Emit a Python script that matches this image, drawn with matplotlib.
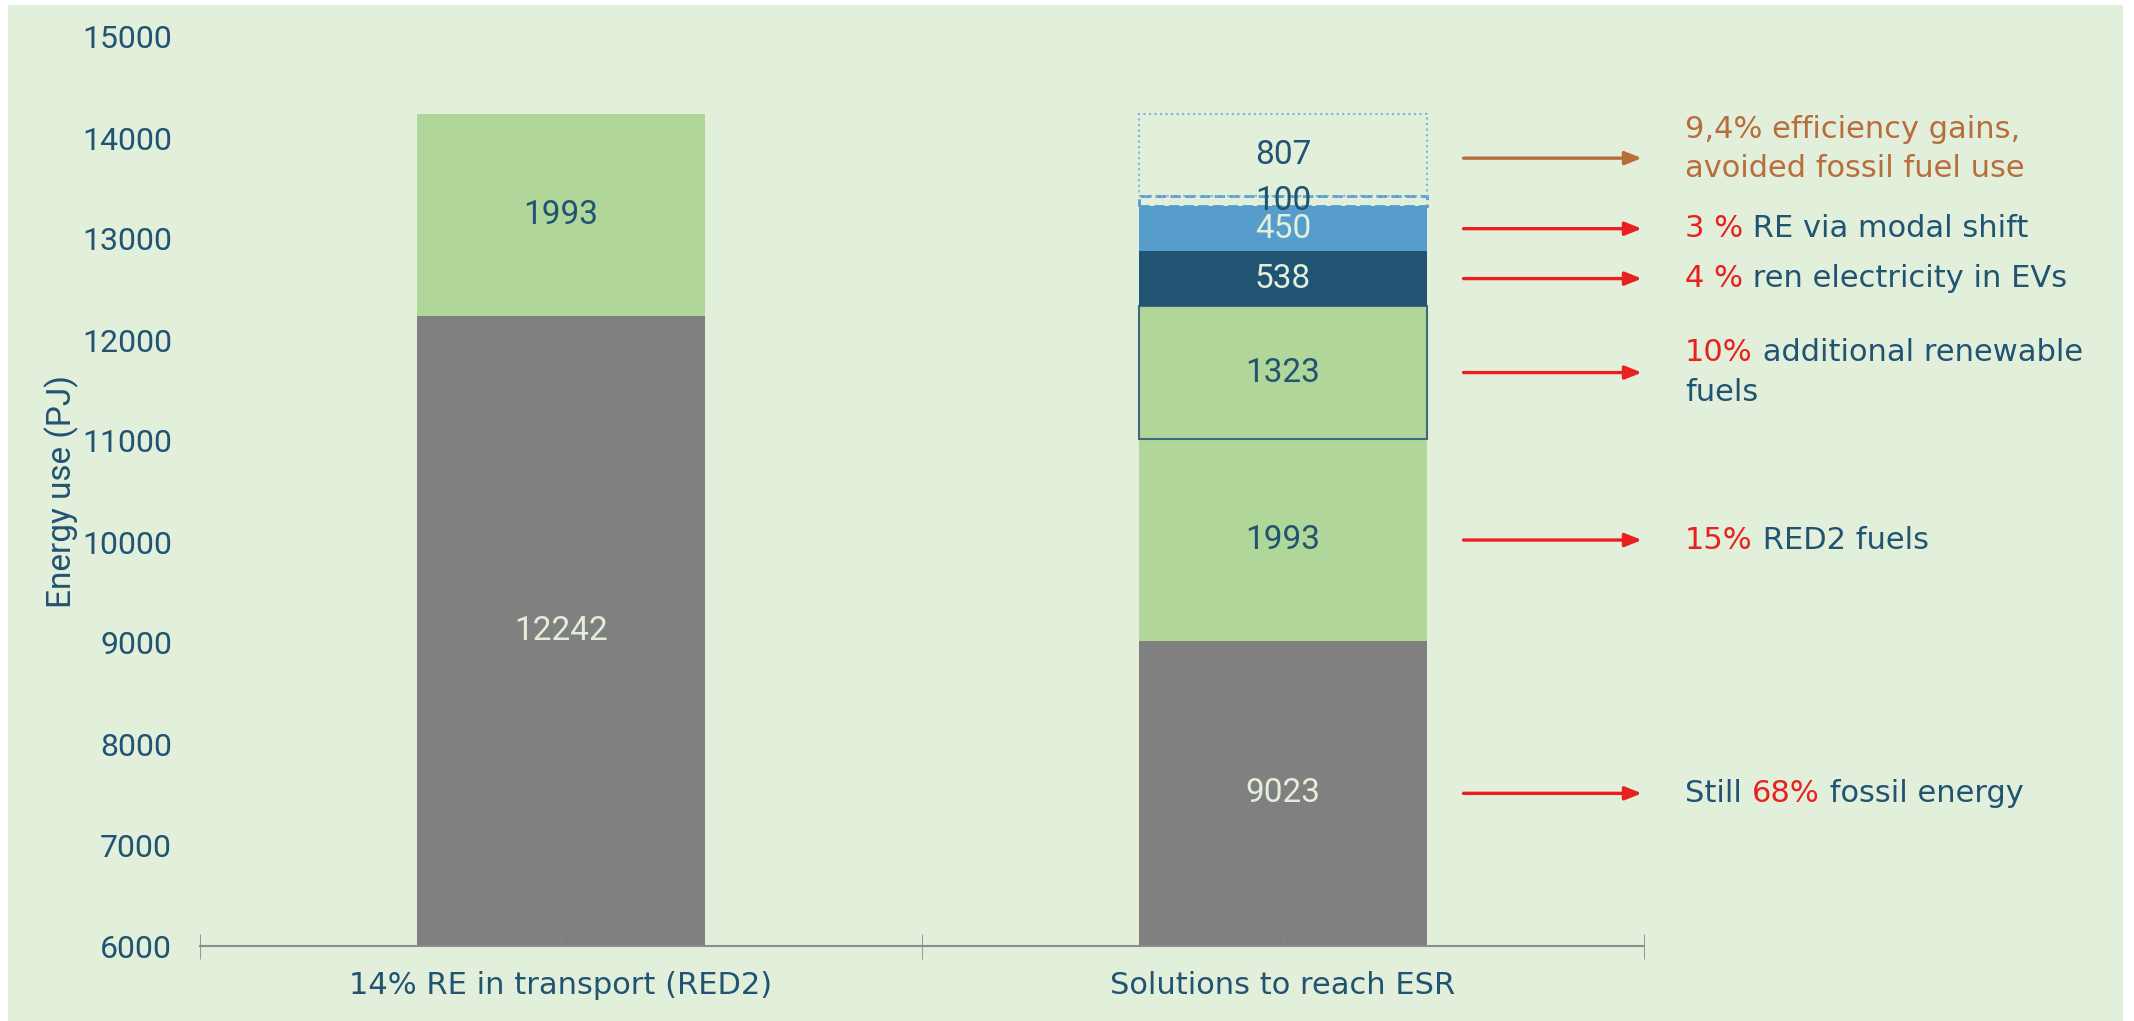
import numpy as np
import matplotlib.pyplot as plt
from matplotlib.patches import Rectangle

# data
categories = ["14% RE in transport (RED2)", "Solutions to reach ESR"]
left_vals = [12242, 1993]
right_vals = [9023, 1993, 1323, 538, 450, 100, 807]

# annotation text pieces per right segment index: (segment, [(text, colour), ...] lines)
notes = [
    (0, [[("Still ", "blue"), ("68%", "red"), (" fossil energy", "blue")]]),
    (1, [[("15%", "red"), (" RED2 fuels", "blue")]]),
    (2, [[("10%", "red"), (" additional renewable", "blue")], [("fuels", "blue")]]),
    (3, [[("4 %", "red"), (" ren electricity in EVs", "blue")]]),
    (4, [[("3 %", "red"), (" RE via modal shift", "blue")]]),
    (6, [[("9,4% efficiency gains,", "brown")], [("avoided fossil fuel use", "brown")]]),
]

bg = "#E2EFDA"
grey = "#808080"
green = "#B1D699"
dblue = "#215372"
mblue = "#569DCB"
txtblue = "#215372"
cols = {"red": "#E8201E", "blue": txtblue, "brown": "#B86E3C"}

ymin = 6000

plt.rcParams["font.family"] = ["Roboto", "DejaVu Sans"]

fig = plt.figure(figsize=(21.34, 10.21), dpi=100, facecolor="white")
fig.patches.append(Rectangle((8 / 2134, 0), (2123 - 8) / 2134, 1 - 5 / 1021,
                             transform=fig.transFigure, facecolor=bg,
                             edgecolor="none", zorder=-10))
ax = fig.add_axes([200 / 2134, 75 / 1021, 1444 / 2134, 909 / 1021])
ax.set_facecolor("none")

w = 0.4
fs = 24

# left bar
ax.bar(0, left_vals[0], w, color=grey)
ax.bar(0, left_vals[1], w, bottom=left_vals[0], color=green)
ax.text(0, (ymin + left_vals[0]) / 2, str(left_vals[0]), ha="center", va="center",
        fontsize=fs, color=bg)
ax.text(0, left_vals[0] + left_vals[1] / 2, str(left_vals[1]), ha="center",
        va="center", fontsize=fs, color=txtblue)

# right bar
bottoms = np.concatenate([[0], np.cumsum(right_vals)[:-1]])
fills = [grey, green, green, dblue, mblue, "none", "none"]
edges = ["none", "none", "#3E6A80", "none", "none", mblue, "#7FB3DA"]
styles = ["-", "-", "-", "-", "-", "--", ":"]
lws = [0, 0, 1.5, 0, 0, 2, 1.5]
lab_cols = [bg, txtblue, txtblue, bg, bg, txtblue, txtblue]
for v, b, fc, ec, ls, lw, lc in zip(right_vals, bottoms, fills, edges, styles, lws, lab_cols):
    ax.bar(1, v, w, bottom=b, color=fc, edgecolor=ec, linestyle=ls, linewidth=lw)
    yc = (max(b, ymin) + b + v) / 2
    ax.text(1, yc, str(v), ha="center", va="center", fontsize=fs, color=lc)

# arrows + annotations
for seg, lines in notes:
    b = bottoms[seg]
    yc = (max(b, ymin) + b + right_vals[seg]) / 2
    acol = cols["brown"] if seg == 6 else cols["red"]
    ay = yc - 30 if seg == 6 else yc
    ax.annotate("", xy=(1.497, ay), xytext=(1.25, ay), annotation_clip=False,
                arrowprops=dict(arrowstyle="-|>,head_length=1.0,head_width=0.4",
                                color=acol, lw=2.4, shrinkA=0, shrinkB=0))
    n = len(lines)
    lh = 390
    for i, parts in enumerate(lines):
        ly = yc + (n - 1) / 2 * lh - i * lh + (60 if n > 1 and seg == 6 else 0)
        t = ax.text(1.557, ly, parts[0][0], color=cols[parts[0][1]], fontsize=22,
                    ha="left", va="center", clip_on=False, family="DejaVu Sans")
        for s, c in parts[1:]:
            t = ax.annotate(s, xycoords=t, xy=(1, 0), va="bottom", ha="left",
                            color=cols[c], fontsize=22, family="DejaVu Sans")

ax.set_xlim(-0.5, 1.5)
ax.set_ylim(ymin, 15000)
ax.set_yticks(np.arange(6000, 15001, 1000))
ax.set_xticks([0, 1])
ax.set_xticklabels(categories, fontsize=22, color=txtblue, family="DejaVu Sans")
ax.set_xticks([-0.5, 0.5, 1.5], minor=True)
ax.tick_params(axis="y", length=0, labelsize=23, labelcolor=txtblue, pad=20)
ax.tick_params(axis="x", which="major", length=8, direction="in", color="#888888",
               pad=18)
ax.tick_params(axis="x", which="minor", length=18, direction="inout", color="#888888")
for s in ["left", "right", "top"]:
    ax.spines[s].set_visible(False)
ax.spines["bottom"].set_color("#8C8C8C")
ax.spines["bottom"].set_linewidth(1.5)
ax.set_ylabel("Energy use (PJ)", fontsize=24, color=txtblue, labelpad=2)

fig.savefig("out.png", dpi=100, facecolor="white")
